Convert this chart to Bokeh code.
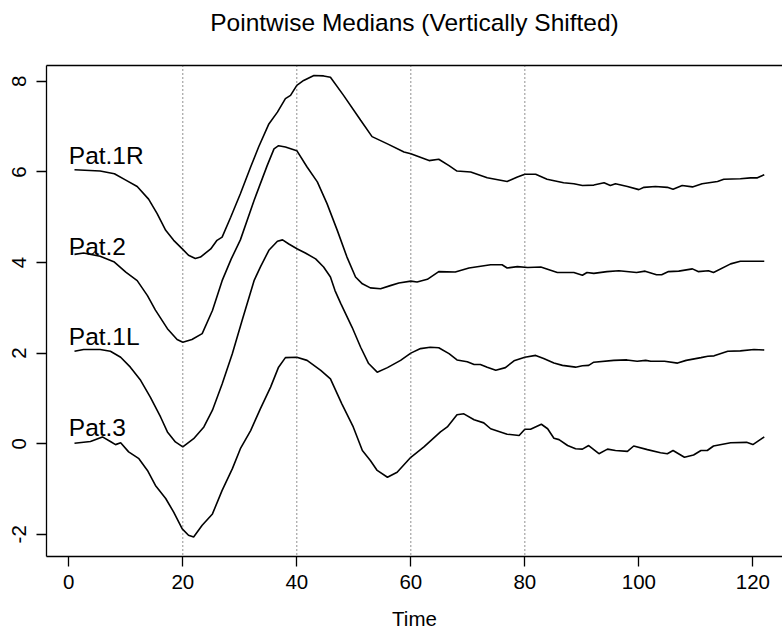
from bokeh.plotting import figure
from bokeh.models import Range1d, Span, FixedTicker, LinearAxis
from bokeh.core.properties import value
from bokeh.embed import file_html
from bokeh.resources import INLINE

# ---- data (vertically shifted pointwise medians) ----
names = ["Pat.1R", "Pat.2", "Pat.1L", "Pat.3"]
shifts = [6, 4, 2, 0]

t_1r = [1, 5.5, 8, 10, 12, 14, 15.5, 17, 18.4, 20, 21, 22.2, 23.1, 24.9, 26, 26.9, 28.4, 30.1,
        31.9, 33.3, 35.1, 36.6, 38, 38.9, 40, 41.2, 43, 44.7, 45.9, 48.2, 51.2, 53.2, 55.9, 58.8,
        60, 63.2, 64.9, 66.7, 68.1, 70.5, 73.4, 76.9, 78.7, 80, 81.9, 83.9, 86.8, 88.6, 90.1, 92.1,
        93.9, 95, 95.9, 98, 100, 100.9, 102.9, 105, 106, 107.6, 109.4, 111.1, 113.8, 114.9, 117.8,
        119.6, 120.8, 122]
v_1r = [6.05, 6.02, 5.96, 5.82, 5.68, 5.40, 5.08, 4.71, 4.49, 4.29, 4.16, 4.09, 4.12, 4.30, 4.49,
        4.56, 5.00, 5.52, 6.11, 6.55, 7.06, 7.32, 7.62, 7.69, 7.91, 8.02, 8.13, 8.12, 8.09, 7.69,
        7.14, 6.78, 6.62, 6.44, 6.40, 6.25, 6.28, 6.14, 6.02, 6.00, 5.87, 5.79, 5.89, 5.95, 5.95,
        5.84, 5.76, 5.74, 5.70, 5.71, 5.76, 5.70, 5.74, 5.68, 5.61, 5.66, 5.68, 5.66, 5.62, 5.70,
        5.67, 5.74, 5.79, 5.84, 5.85, 5.87, 5.87, 5.94]

t_2 = [1, 2.6, 5.5, 8, 10, 12, 13.8, 15.2, 17.3, 19, 20, 21.6, 23.4, 25.2, 26.9, 28.5, 30.1, 32.5,
       34.8, 36, 36.8, 38, 40, 41.8, 43.6, 45.3, 47.1, 48.8, 50.3, 51.5, 52.9, 54.7, 56.4, 57.9,
       60, 61.1, 62.9, 64.9, 67.8, 70.2, 74, 76, 76.9, 78.7, 80.5, 82.8, 85.7, 88.6, 90.1, 90.9,
       92.1, 94.4, 96.5, 99.6, 101.1, 103.1, 104, 105.2, 107, 109.4, 110.4, 112.2, 113.1, 116.1,
       117.8, 122]
v_2 = [4.18, 4.21, 4.14, 4.01, 3.79, 3.60, 3.27, 2.95, 2.54, 2.30, 2.24, 2.30, 2.43, 2.94, 3.60,
       4.08, 4.50, 5.37, 6.14, 6.51, 6.58, 6.55, 6.47, 6.11, 5.78, 5.30, 4.71, 4.12, 3.68, 3.53,
       3.44, 3.42, 3.49, 3.55, 3.59, 3.57, 3.63, 3.80, 3.79, 3.88, 3.95, 3.95, 3.88, 3.91, 3.89,
       3.90, 3.78, 3.78, 3.72, 3.78, 3.76, 3.80, 3.82, 3.78, 3.81, 3.73, 3.73, 3.80, 3.81, 3.86,
       3.80, 3.82, 3.78, 3.97, 4.03, 4.03]

t_1l = [1, 2.6, 5.5, 7.3, 9.1, 10.8, 12.6, 14.3, 16.1, 17.3, 18.7, 20, 21.9, 23.7, 25.2, 26.9,
        28.7, 30.4, 32.5, 33.6, 35.1, 36.6, 37.5, 38.6, 40.1, 41.5, 43.3, 44.7, 45.9, 46.7, 47.7,
        49.7, 51.2, 52.6, 54.1, 55.9, 58.2, 60, 61.7, 63.4, 64.9, 66.7, 68.1, 69.9, 71.1, 72.2,
        73.4, 74.9, 76.6, 78.1, 80, 81.9, 83.3, 85.1, 86.6, 88.9, 90.1, 91.2, 92.1, 95.6, 97.9,
        99.7, 101.2, 102.1, 104.5, 106.8, 108.3, 110.9, 112.1, 113.2, 115.6, 117.8, 120.2, 122]
v_1l = [2.04, 2.08, 2.08, 2.04, 1.91, 1.69, 1.40, 1.03, 0.59, 0.26, 0.04, -0.07, 0.11, 0.37, 0.74,
        1.32, 1.99, 2.72, 3.60, 3.90, 4.27, 4.47, 4.50, 4.41, 4.30, 4.21, 4.08, 3.90, 3.68, 3.38,
        3.10, 2.57, 2.13, 1.77, 1.58, 1.68, 1.84, 2.00, 2.10, 2.13, 2.12, 1.99, 1.85, 1.81, 1.75,
        1.75, 1.69, 1.62, 1.68, 1.83, 1.91, 1.95, 1.88, 1.78, 1.73, 1.69, 1.72, 1.73, 1.80, 1.84,
        1.85, 1.82, 1.84, 1.82, 1.82, 1.78, 1.84, 1.90, 1.93, 1.94, 2.04, 2.05, 2.08, 2.07]

t_3 = [1, 3.8, 5.9, 7.3, 8.2, 9.1, 10.5, 12.3, 13.8, 15.2, 17, 18.4, 19.9, 21, 21.9, 23.4, 25.2,
       26.9, 28.7, 30.1, 31.9, 33.6, 35.4, 36.8, 38, 40, 41.8, 44.2, 45.9, 47.9, 49.9, 51.5, 52.9,
       54.1, 55.9, 57.6, 60, 62.3, 65.2, 66.4, 68.1, 69.3, 71.1, 72.8, 74, 76.9, 79, 80, 81, 82.9,
       84, 85.1, 86, 87.5, 88.9, 90.1, 91.2, 93, 94.5, 95.9, 98, 99.1, 101.5, 103.8, 105, 106,
       108, 109.6, 110.9, 112, 113.1, 116.1, 118.9, 120, 122]
v_3 = [0.01, 0.05, 0.15, 0.05, -0.02, 0.02, -0.18, -0.33, -0.59, -0.92, -1.21, -1.51, -1.88, -2.02,
       -2.06, -1.80, -1.55, -1.03, -0.55, -0.11, 0.29, 0.77, 1.25, 1.69, 1.90, 1.91, 1.84, 1.62,
       1.43, 0.88, 0.37, -0.15, -0.37, -0.59, -0.74, -0.63, -0.30, -0.07, 0.26, 0.37, 0.64, 0.66,
       0.53, 0.46, 0.33, 0.21, 0.18, 0.32, 0.32, 0.43, 0.33, 0.12, 0.09, -0.04, -0.11, -0.12,
       -0.04, -0.22, -0.12, -0.15, -0.17, -0.05, -0.13, -0.20, -0.22, -0.15, -0.30, -0.25, -0.15,
       -0.15, -0.05, 0.02, 0.03, -0.02, 0.15]

x_ticks = [0, 20, 40, 60, 80, 100, 120]
y_ticks = [-2, 0, 2, 4, 6, 8]
ref_times = [20, 40, 60, 80]
title_text = "Pointwise Medians (Vertically Shifted)"
x_title = "Time"

series_t = [t_1r, t_2, t_1l, t_3]
series_v = [v_1r, v_2, v_1l, v_3]

FONT = "Liberation Sans"

p = figure(width=782, height=632, output_backend="svg", toolbar_location=None,
           x_range=Range1d(-3.91, 125.2), y_range=Range1d(-2.49, 8.35),
           min_border_left=46, min_border_right=0, min_border_top=65, min_border_bottom=76)
p.background_fill_color = "white"
p.border_fill_color = "white"
p.outline_line_color = None
p.grid.visible = False

for ax in (p.xaxis[0], p.yaxis[0]):
    ax.axis_line_color = "black"
    ax.axis_line_width = 1.3
    ax.major_tick_line_color = "black"
    ax.major_tick_line_width = 1.3
    ax.major_tick_in = 0
    ax.major_tick_out = 10
    ax.minor_tick_line_color = None
    ax.major_label_text_font = FONT
    ax.major_label_text_font_size = "20.5px"
    ax.major_label_text_color = "black"

p.xaxis[0].ticker = FixedTicker(ticks=x_ticks)
p.xaxis[0].major_label_overrides = {v: str(v) for v in x_ticks}
p.xaxis[0].major_label_standoff = 8
p.xaxis[0].axis_label = x_title
p.xaxis[0].axis_label_text_font = FONT
p.xaxis[0].axis_label_text_font_size = "20.5px"
p.xaxis[0].axis_label_text_font_style = "normal"
p.xaxis[0].axis_label_text_color = "black"
p.xaxis[0].axis_label_standoff = 15

p.yaxis[0].ticker = FixedTicker(ticks=y_ticks)
p.yaxis[0].major_label_overrides = {v: str(v) for v in y_ticks}
p.yaxis[0].major_label_orientation = "vertical"
p.yaxis[0].major_label_standoff = 10

# top edge of the box; its axis label serves as the chart title
top = LinearAxis(ticker=FixedTicker(ticks=[]), major_label_text_font_size="0px",
                 major_tick_in=0, major_tick_out=0, minor_tick_in=0, minor_tick_out=0,
                 major_label_standoff=0, axis_line_color="black", axis_line_width=1.3,
                 axis_label=title_text, axis_label_text_font=FONT,
                 axis_label_text_font_size="24.5px", axis_label_text_font_style="normal",
                 axis_label_text_color="black", axis_label_standoff=30)
p.add_layout(top, "above")

for tr in ref_times:
    p.add_layout(Span(location=tr, dimension="height", line_color="#222222",
                      line_width=1, line_dash="1 3"))

for tt, vv in zip(series_t, series_v):
    p.line(tt, vv, line_color="black", line_width=1.6)

p.text(x=[0] * len(names), y=[s + 0.36 for s in shifts], text=names,
       text_font=value(FONT), text_font_size=value("24.5px"), text_color="black",
       text_align="left", text_baseline="alphabetic")

open("out.html", "w").write(file_html(p, INLINE))
